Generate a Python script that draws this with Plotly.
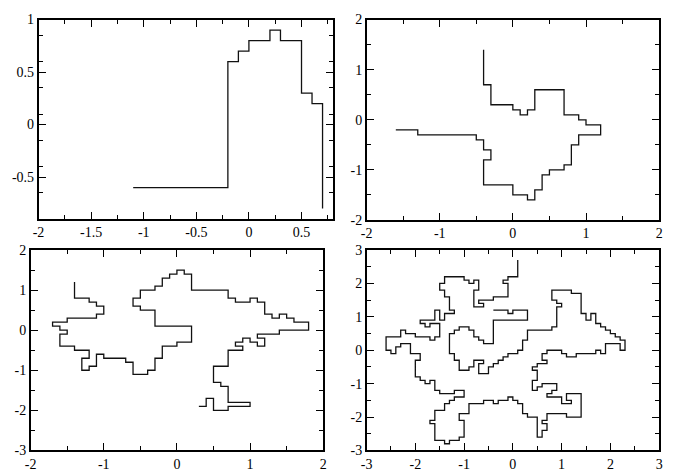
import plotly.graph_objects as go

# ---------------- data ----------------
walk1_x = [-1.1, -0.2, -0.2, -0.1, -0.1, 0.0, 0.0, 0.2, 0.2, 0.3, 0.3, 0.5, 0.5, 0.6, 0.6, 0.7, 0.7]
walk1_y = [-0.6, -0.6, 0.6, 0.6, 0.7, 0.7, 0.8, 0.8, 0.9, 0.9, 0.8, 0.8, 0.3, 0.3, 0.2, 0.2, -0.8]

walk2_pts = [(-0.4, 1.4), (-0.4, 0.7), (-0.3, 0.7), (-0.3, 0.3), (0.0, 0.3), (0.0, 0.2), (0.1, 0.2), (0.1, 0.1),
             (0.2, 0.1), (0.2, 0.2), (0.3, 0.2), (0.3, 0.6), (0.7, 0.6), (0.7, 0.1), (0.9, 0.1), (0.9, 0.0),
             (1.0, 0.0), (1.0, -0.1), (1.2, -0.1), (1.2, -0.3), (0.9, -0.3), (0.9, -0.5), (0.8, -0.5), (0.8, -0.9),
             (0.7, -0.9), (0.7, -1.0), (0.5, -1.0), (0.5, -1.1), (0.4, -1.1), (0.4, -1.4), (0.3, -1.4), (0.3, -1.6),
             (0.2, -1.6), (0.2, -1.5), (0.0, -1.5), (0.0, -1.3), (-0.4, -1.3), (-0.4, -0.8), (-0.3, -0.8), (-0.3, -0.6),
             (-0.4, -0.6), (-0.4, -0.4), (-0.5, -0.4), (-0.5, -0.3), (-1.3, -0.3), (-1.3, -0.2), (-1.6, -0.2)]

walk3_pts = [(-1.4, 1.2), (-1.4, 0.8), (-1.2, 0.8), (-1.2, 0.7), (-1.1, 0.7), (-1.1, 0.6), (-1.0, 0.6), (-1.0, 0.4),
             (-1.1, 0.4), (-1.1, 0.3), (-1.5, 0.3), (-1.5, 0.2), (-1.7, 0.2), (-1.7, 0.1), (-1.6, 0.1), (-1.6, 0.0),
             (-1.5, 0.0), (-1.5, -0.1), (-1.6, -0.1), (-1.6, -0.4), (-1.4, -0.4), (-1.4, -0.5), (-1.2, -0.5), (-1.2, -0.7),
             (-1.3, -0.7), (-1.3, -1.0), (-1.2, -1.0), (-1.2, -0.9), (-1.1, -0.9), (-1.1, -0.6), (-1.0, -0.6), (-1.0, -0.7),
             (-0.7, -0.7), (-0.7, -0.8), (-0.6, -0.8), (-0.6, -1.1), (-0.4, -1.1), (-0.4, -1.0), (-0.3, -1.0), (-0.3, -0.7),
             (-0.2, -0.7), (-0.2, -0.4), (0.0, -0.4), (0.0, -0.3), (0.2, -0.3), (0.2, 0.1), (-0.3, 0.1), (-0.3, 0.5),
             (-0.5, 0.5), (-0.5, 0.6), (-0.6, 0.6), (-0.6, 0.8), (-0.5, 0.8), (-0.5, 1.0), (-0.3, 1.0), (-0.3, 1.1),
             (-0.2, 1.1), (-0.2, 1.3), (-0.1, 1.3), (-0.1, 1.4), (0.0, 1.4), (0.0, 1.5), (0.1, 1.5), (0.1, 1.4),
             (0.2, 1.4), (0.2, 1.0), (0.7, 1.0), (0.7, 0.8), (0.8, 0.8), (0.8, 0.7), (1.0, 0.7), (1.0, 0.8),
             (1.1, 0.8), (1.1, 0.7), (1.2, 0.7), (1.2, 0.4), (1.3, 0.4), (1.3, 0.3), (1.4, 0.3), (1.4, 0.4),
             (1.5, 0.4), (1.5, 0.3), (1.6, 0.3), (1.6, 0.2), (1.8, 0.2), (1.8, 0.0), (1.4, 0.0), (1.4, -0.1),
             (1.1, -0.1), (1.1, -0.2), (1.2, -0.2), (1.2, -0.4), (1.1, -0.4), (1.1, -0.3), (1.0, -0.3), (1.0, -0.2),
             (0.9, -0.2), (0.9, -0.3), (0.8, -0.3), (0.8, -0.4), (0.9, -0.4), (0.9, -0.5), (0.7, -0.5), (0.7, -0.9),
             (0.5, -0.9), (0.5, -1.3), (0.6, -1.3), (0.6, -1.4), (0.7, -1.4), (0.7, -1.8), (1.0, -1.8), (1.0, -1.9),
             (0.7, -1.9), (0.7, -2.0), (0.5, -2.0), (0.5, -1.7), (0.4, -1.7), (0.4, -1.9), (0.3, -1.9)]

walk4_pts = [(0.1, 2.7), (0.1, 2.2), (-0.1, 2.2), (-0.1, 2.1), (-0.2, 2.1), (-0.2, 2.0), (-0.1, 2.0), (-0.1, 1.6),
             (-0.4, 1.6), (-0.4, 1.5), (-0.7, 1.5), (-0.7, 1.4), (-0.6, 1.4), (-0.6, 1.3), (-0.8, 1.3), (-0.8, 1.8),
             (-0.7, 1.8), (-0.7, 2.1), (-0.8, 2.1), (-0.8, 2.0), (-0.9, 2.0), (-0.9, 2.1), (-1.0, 2.1), (-1.0, 2.2),
             (-1.4, 2.2), (-1.4, 2.0), (-1.5, 2.0), (-1.5, 1.8), (-1.4, 1.8), (-1.4, 1.6), (-1.3, 1.6), (-1.3, 1.2),
             (-1.2, 1.2), (-1.2, 1.1), (-1.4, 1.1), (-1.4, 0.9), (-1.5, 0.9), (-1.5, 1.2), (-1.6, 1.2), (-1.6, 0.9),
             (-1.9, 0.9), (-1.9, 0.8), (-1.8, 0.8), (-1.8, 0.7), (-1.7, 0.7), (-1.7, 0.8), (-1.5, 0.8), (-1.5, 0.4),
             (-1.6, 0.4), (-1.6, 0.3), (-1.7, 0.3), (-1.7, 0.4), (-2.0, 0.4), (-2.0, 0.5), (-2.2, 0.5), (-2.2, 0.6),
             (-2.3, 0.6), (-2.3, 0.4), (-2.6, 0.4), (-2.6, 0.0), (-2.5, 0.0), (-2.5, -0.1), (-2.4, -0.1), (-2.4, 0.1),
             (-2.3, 0.1), (-2.3, 0.2), (-2.1, 0.2), (-2.1, -0.1), (-1.9, -0.1), (-1.9, -0.3), (-2.0, -0.3), (-2.0, -0.8),
             (-1.9, -0.8), (-1.9, -0.9), (-1.8, -0.9), (-1.8, -1.0), (-1.7, -1.0), (-1.7, -0.9), (-1.6, -0.9), (-1.6, -1.2),
             (-1.5, -1.2), (-1.5, -1.3), (-1.2, -1.3), (-1.2, -1.2), (-1.0, -1.2), (-1.0, -1.4), (-1.2, -1.4), (-1.2, -1.5),
             (-1.3, -1.5), (-1.3, -1.6), (-1.4, -1.6), (-1.4, -1.8), (-1.6, -1.8), (-1.6, -2.1), (-1.7, -2.1), (-1.7, -2.2),
             (-1.6, -2.2), (-1.6, -2.7), (-1.4, -2.7), (-1.4, -2.8), (-1.3, -2.8), (-1.3, -2.7), (-1.1, -2.7), (-1.1, -2.6),
             (-1.0, -2.6), (-1.0, -2.1), (-1.1, -2.1), (-1.1, -1.9), (-0.9, -1.9), (-0.9, -1.6), (-0.6, -1.6), (-0.6, -1.5),
             (-0.4, -1.5), (-0.4, -1.6), (-0.3, -1.6), (-0.3, -1.5), (-0.1, -1.5), (-0.1, -1.4), (0.0, -1.4), (0.0, -1.5),
             (0.1, -1.5), (0.1, -1.6), (0.2, -1.6), (0.2, -1.9), (0.3, -1.9), (0.3, -2.0), (0.5, -2.0), (0.5, -2.6),
             (0.6, -2.6), (0.6, -2.4), (0.7, -2.4), (0.7, -2.2), (0.6, -2.2), (0.6, -2.1), (0.7, -2.1), (0.7, -1.9),
             (1.1, -1.9), (1.1, -2.0), (1.4, -2.0), (1.4, -1.3), (1.1, -1.3), (1.1, -1.5), (1.2, -1.5), (1.2, -1.6),
             (1.0, -1.6), (1.0, -1.4), (0.7, -1.4), (0.7, -1.3), (0.8, -1.3), (0.8, -1.2), (0.9, -1.2), (0.9, -1.0),
             (0.6, -1.0), (0.6, -1.1), (0.5, -1.1), (0.5, -1.2), (0.4, -1.2), (0.4, -0.9), (0.5, -0.9), (0.5, -0.6),
             (0.4, -0.6), (0.4, -0.5), (0.5, -0.5), (0.5, -0.4), (0.7, -0.4), (0.7, -0.3), (0.6, -0.3), (0.6, -0.1),
             (0.7, -0.1), (0.7, 0.0), (1.0, 0.0), (1.0, -0.1), (1.1, -0.1), (1.1, -0.2), (1.3, -0.2), (1.3, -0.1),
             (1.7, -0.1), (1.7, 0.0), (1.8, 0.0), (1.8, -0.1), (1.9, -0.1), (1.9, 0.2), (2.2, 0.2), (2.2, 0.0),
             (2.3, 0.0), (2.3, 0.3), (2.2, 0.3), (2.2, 0.4), (2.1, 0.4), (2.1, 0.5), (2.0, 0.5), (2.0, 0.6),
             (1.9, 0.6), (1.9, 0.7), (1.8, 0.7), (1.8, 0.8), (1.7, 0.8), (1.7, 1.1), (1.6, 1.1), (1.6, 0.9),
             (1.5, 0.9), (1.5, 1.1), (1.4, 1.1), (1.4, 1.7), (1.2, 1.7), (1.2, 1.8), (0.8, 1.8), (0.8, 1.5),
             (0.9, 1.5), (0.9, 1.4), (1.0, 1.4), (1.0, 1.3), (0.9, 1.3), (0.9, 0.7), (0.8, 0.7), (0.8, 0.6),
             (0.3, 0.6), (0.3, 0.3), (0.2, 0.3), (0.2, 0.0), (0.1, 0.0), (0.1, -0.1), (-0.1, -0.1), (-0.1, -0.2),
             (-0.2, -0.2), (-0.2, -0.3), (-0.3, -0.3), (-0.3, -0.4), (-0.4, -0.4), (-0.4, -0.5), (-0.5, -0.5), (-0.5, -0.7),
             (-0.7, -0.7), (-0.7, -0.4), (-0.6, -0.4), (-0.6, -0.3), (-0.8, -0.3), (-0.8, -0.5), (-0.9, -0.5), (-0.9, -0.6),
             (-1.1, -0.6), (-1.1, -0.3), (-1.2, -0.3), (-1.2, -0.1), (-1.3, -0.1), (-1.3, 0.5), (-1.2, 0.5), (-1.2, 0.6),
             (-1.1, 0.6), (-1.1, 0.7), (-0.9, 0.7), (-0.9, 0.6), (-0.8, 0.6), (-0.8, 0.4), (-0.7, 0.4), (-0.7, 0.3),
             (-0.6, 0.3), (-0.6, 0.2), (-0.4, 0.2), (-0.4, 0.9), (0.3, 0.9), (0.3, 1.2), (0.0, 1.2), (0.0, 1.1),
             (-0.1, 1.1), (-0.1, 1.2), (-0.4, 1.2)]

# axis ranges and tick labels
x1_range, y1_range = [-2, 0.8], [-0.9, 1]
x1_ticks = [-2, -1.5, -1, -0.5, 0, 0.5]
x1_labels = ["-2", "-1.5", "-1", "-0.5", "0", "0.5"]
y1_ticks = [-0.5, 0, 0.5, 1]
y1_labels = ["-0.5", "0", "0.5", "1"]

x2_range, y2_range = [-2, 2], [-2, 2]
x2_ticks = [-2, -1, 0, 1, 2]
x2_labels = ["-2", "-1", "0", "1", "2"]
y2_ticks = [-2, -1, 0, 1, 2]
y2_labels = ["-2", "-1", "0", "1", "2"]

x3_range, y3_range = [-2, 2], [-3, 2]
x3_ticks = [-2, -1, 0, 1, 2]
x3_labels = ["-2", "-1", "0", "1", "2"]
y3_ticks = [-3, -2, -1, 0, 1, 2]
y3_labels = ["-3", "-2", "-1", "0", "1", "2"]

x4_range, y4_range = [-3, 3], [-3, 3]
x4_ticks = [-3, -2, -1, 0, 1, 2, 3]
x4_labels = ["-3", "-2", "-1", "0", "1", "2", "3"]
y4_ticks = [-3, -2, -1, 0, 1, 2, 3]
y4_labels = ["-3", "-2", "-1", "0", "1", "2", "3"]

# ---------------- figure ----------------
W, H = 673, 472
fig = go.Figure()

def minor_vals(rng, step):
    vals = []
    k = 0
    while rng[0] + k * step <= rng[1] + 1e-9:
        vals.append(round(rng[0] + k * step, 4))
        k += 1
    return vals

panels = [
    (walk1_x, walk1_y, x1_range, y1_range, x1_ticks, x1_labels, y1_ticks, y1_labels, 0.25, 0.25, (33, 332, 13, 219)),
    ([p[0] for p in walk2_pts], [p[1] for p in walk2_pts], x2_range, y2_range, x2_ticks, x2_labels, y2_ticks, y2_labels, 0.5, 0.5, (366, 663, 13, 220)),
    ([p[0] for p in walk3_pts], [p[1] for p in walk3_pts], x3_range, y3_range, x3_ticks, x3_labels, y3_ticks, y3_labels, 0.5, 0.5, (25, 322, 251, 458)),
    ([p[0] for p in walk4_pts], [p[1] for p in walk4_pts], x4_range, y4_range, x4_ticks, x4_labels, y4_ticks, y4_labels, 0.5, 0.5, (366, 663, 251, 458)),
]

font = dict(family="'Liberation Serif', 'Times New Roman', serif", size=14, color="black")
layout = {}
for i, (xs, ys, xr, yr, xt, xl, yt, yl, xm, ym, box) in enumerate(panels, start=1):
    l, r, t, b = box
    sfx = "" if i == 1 else str(i)
    fig.add_trace(go.Scatter(x=xs, y=ys, mode="lines",
                             line=dict(color="#111111", width=1.3),
                             xaxis="x" + sfx, yaxis="y" + sfx,
                             showlegend=False, hoverinfo="skip"))
    common = dict(showgrid=False, zeroline=False, showline=True, linecolor="black", linewidth=1.6,
                  mirror="ticks", ticks="inside", ticklen=7, tickwidth=1, tickcolor="black",
                  tickfont=font, tickmode="array")
    layout["xaxis" + sfx] = dict(common, domain=[l / W, r / W], range=xr, tickvals=xt, ticktext=xl,
                                 anchor="y" + sfx,
                                 minor=dict(ticks="inside", ticklen=4, tickwidth=1, tickcolor="black",
                                            tickvals=minor_vals(xr, xm)))
    layout["yaxis" + sfx] = dict(common, domain=[1 - b / H, 1 - t / H], range=yr, tickvals=yt, ticktext=yl,
                                 anchor="x" + sfx,
                                 minor=dict(ticks="inside", ticklen=4, tickwidth=1, tickcolor="black",
                                            tickvals=minor_vals(yr, ym)))

fig.update_layout(width=W, height=H, margin=dict(l=0, r=0, t=0, b=0),
                  paper_bgcolor="white", plot_bgcolor="white", showlegend=False, **layout)
fig.write_html("out.html", config={"displayModeBar": False, "staticPlot": True},
               post_script="document.body.style.margin='0px';document.body.style.padding='0px';document.body.style.overflow='hidden';")
